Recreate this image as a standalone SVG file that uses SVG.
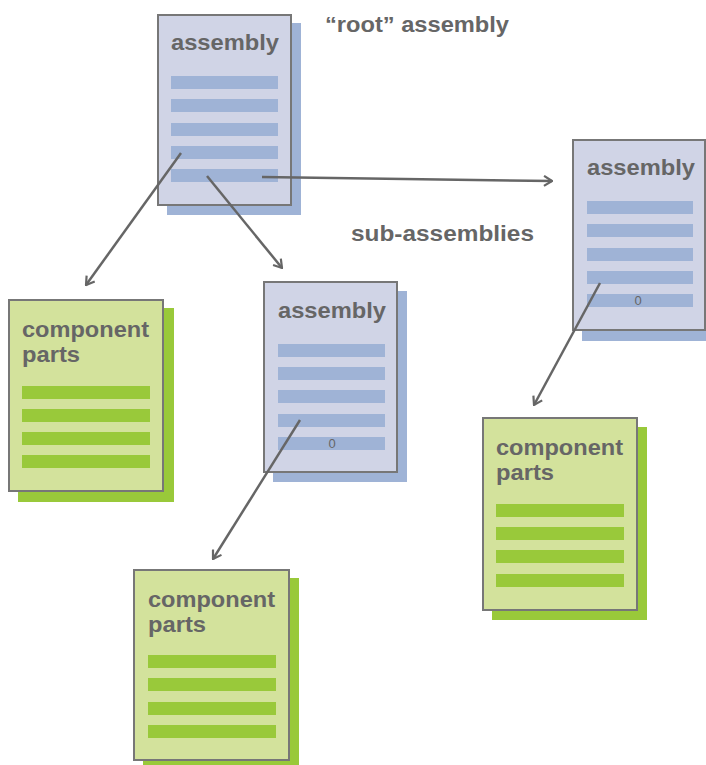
<svg xmlns="http://www.w3.org/2000/svg" width="706" height="765" viewBox="0 0 706 765">
  <style>
    .lbl { font-family: "Liberation Sans", Arial, sans-serif; font-weight: bold; font-size: 22px; fill: #666666; }
    .zero { font-family: "Liberation Sans", Arial, sans-serif; font-size: 13px; fill: #666666; text-anchor: middle; }
    .page { stroke: #777777; stroke-width: 2; }
    .asm-page { fill: #d0d4e6; }
    .asm-bar { fill: #9fb3d6; }
    .cmp-page { fill: #d3e29c; }
    .cmp-bar { fill: #99c93a; }
    .conn { stroke: #666666; stroke-width: 2.5; fill: none; marker-end: url(#arrow); }
  </style>
  <defs>
    <marker id="arrow" viewBox="0 0 10 12" refX="9" refY="6" markerWidth="10" markerHeight="12" markerUnits="userSpaceOnUse" orient="auto">
      <path d="M1,1 L9,6 L1,11" fill="none" stroke="#666666" stroke-width="2.2"/>
    </marker>
  </defs>

  <rect width="706" height="765" fill="#ffffff"/>

  <!-- free labels -->
  <text class="lbl" x="325" y="32" textLength="184" lengthAdjust="spacingAndGlyphs">“root” assembly</text>
  <text class="lbl" x="351" y="241" textLength="183" lengthAdjust="spacingAndGlyphs">sub-assemblies</text>

  <!-- root assembly -->
  <g id="root-assembly">
    <rect class="asm-bar" x="167" y="23" width="134" height="192"/>
    <rect class="page asm-page" x="158" y="15" width="133" height="190"/>
    <text class="lbl" x="171" y="50" textLength="108" lengthAdjust="spacingAndGlyphs">assembly</text>
    <rect class="asm-bar" x="171" y="76" width="107" height="13"/>
    <rect class="asm-bar" x="171" y="99" width="107" height="13"/>
    <rect class="asm-bar" x="171" y="123" width="107" height="13"/>
    <rect class="asm-bar" x="171" y="146" width="107" height="13"/>
    <rect class="asm-bar" x="171" y="169" width="107" height="13"/>
  </g>

  <!-- right sub-assembly -->
  <g id="sub-assembly-right">
    <rect class="asm-bar" x="582" y="149" width="130" height="192"/>
    <rect class="page asm-page" x="573" y="140" width="132" height="190"/>
    <text class="lbl" x="587" y="175" textLength="108" lengthAdjust="spacingAndGlyphs">assembly</text>
    <rect class="asm-bar" x="587" y="201" width="106" height="13"/>
    <rect class="asm-bar" x="587" y="224" width="106" height="13"/>
    <rect class="asm-bar" x="587" y="248" width="106" height="13"/>
    <rect class="asm-bar" x="587" y="271" width="106" height="13"/>
    <rect class="asm-bar" x="587" y="294" width="106" height="13"/>
    <text class="zero" x="638" y="305">0</text>
  </g>

  <!-- middle sub-assembly -->
  <g id="sub-assembly-middle">
    <rect class="asm-bar" x="273" y="291" width="134" height="191"/>
    <rect class="page asm-page" x="264" y="282" width="133" height="190"/>
    <text class="lbl" x="278" y="318" textLength="108" lengthAdjust="spacingAndGlyphs">assembly</text>
    <rect class="asm-bar" x="278" y="344" width="107" height="13"/>
    <rect class="asm-bar" x="278" y="367" width="107" height="13"/>
    <rect class="asm-bar" x="278" y="390" width="107" height="13"/>
    <rect class="asm-bar" x="278" y="414" width="107" height="13"/>
    <rect class="asm-bar" x="278" y="437" width="107" height="13"/>
    <text class="zero" x="332" y="448">0</text>
  </g>

  <!-- left component parts -->
  <g id="parts-left">
    <rect class="cmp-bar" x="18" y="308" width="156" height="194"/>
    <rect class="page cmp-page" x="9" y="300" width="154" height="191"/>
    <text class="lbl" x="22" y="337" textLength="127" lengthAdjust="spacingAndGlyphs">component</text>
    <text class="lbl" x="22" y="362" textLength="58" lengthAdjust="spacingAndGlyphs">parts</text>
    <rect class="cmp-bar" x="22" y="386" width="128" height="13"/>
    <rect class="cmp-bar" x="22" y="409" width="128" height="13"/>
    <rect class="cmp-bar" x="22" y="432" width="128" height="13"/>
    <rect class="cmp-bar" x="22" y="455" width="128" height="13"/>
  </g>

  <!-- bottom component parts -->
  <g id="parts-bottom">
    <rect class="cmp-bar" x="143" y="578" width="156" height="194"/>
    <rect class="page cmp-page" x="134" y="570" width="155" height="190"/>
    <text class="lbl" x="148" y="607" textLength="127" lengthAdjust="spacingAndGlyphs">component</text>
    <text class="lbl" x="148" y="632" textLength="58" lengthAdjust="spacingAndGlyphs">parts</text>
    <rect class="cmp-bar" x="148" y="655" width="128" height="13"/>
    <rect class="cmp-bar" x="148" y="678" width="128" height="13"/>
    <rect class="cmp-bar" x="148" y="702" width="128" height="13"/>
    <rect class="cmp-bar" x="148" y="725" width="128" height="13"/>
  </g>

  <!-- right component parts -->
  <g id="parts-right">
    <rect class="cmp-bar" x="492" y="427" width="155" height="193"/>
    <rect class="page cmp-page" x="483" y="418" width="154" height="192"/>
    <text class="lbl" x="496" y="455" textLength="127" lengthAdjust="spacingAndGlyphs">component</text>
    <text class="lbl" x="496" y="480" textLength="58" lengthAdjust="spacingAndGlyphs">parts</text>
    <rect class="cmp-bar" x="496" y="504" width="128" height="13"/>
    <rect class="cmp-bar" x="496" y="527" width="128" height="13"/>
    <rect class="cmp-bar" x="496" y="550" width="128" height="13"/>
    <rect class="cmp-bar" x="496" y="574" width="128" height="13"/>
  </g>

  <!-- connectors -->
  <g id="connectors">
    <line class="conn" x1="181" y1="153" x2="86" y2="285"/>
    <line class="conn" x1="207" y1="176" x2="282" y2="268"/>
    <line class="conn" x1="262" y1="177" x2="552" y2="181"/>
    <line class="conn" x1="600" y1="283" x2="534" y2="405"/>
    <line class="conn" x1="300" y1="420" x2="213" y2="559"/>
  </g>
</svg>
